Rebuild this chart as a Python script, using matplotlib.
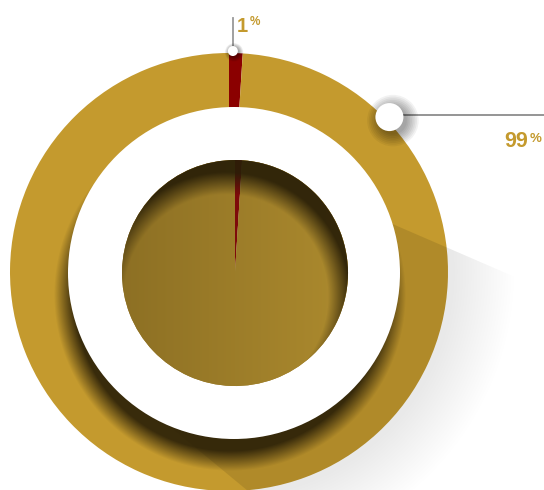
import numpy as np
import matplotlib.pyplot as plt
from matplotlib.patches import Circle, Polygon

# chart data
labels = ['1', '99']
values = [1, 99]
outer_colors = ['#8b0000', '#c49a2e']
inner_colors = ['#7e0a0a', '#9a7a2a']

W, H = 544, 490
gold = '#c49a2e'

fig = plt.figure(figsize=(W / 100, H / 100), dpi=100)
ax = fig.add_axes([0, 0, 1, 1])

# geometry in pixel units, y up
c_out, r_out = (229, 218), 219
c_white, r_white = (234, 217), 166
c_in, r_in = (235, 217), 113

X, Y = np.meshgrid(np.arange(W) + 0.5, np.arange(H) + 0.5)
ext = (0, W, 0, H)


def dist(c):
    return np.hypot(X - c[0], Y - c[1])


def shade(alpha, rgb=(0.16, 0.12, 0.03)):
    img = np.zeros((H, W, 4))
    img[..., :3] = rgb
    img[..., 3] = np.clip(alpha, 0, 1)
    return img


# outer ring
ax.pie(values, colors=outer_colors, radius=r_out, center=c_out, startangle=90,
       counterclock=False, wedgeprops=dict(linewidth=0, zorder=1))

# long shadow towards lower right
pts = [(300, 184), (640, 331), (640, 700), (450, 658), (150, 410)]
poly = Polygon([(x, H - y) for x, y in pts], transform=ax.transData)
d = dist(c_out)
a = np.where(d < r_out, 0.1, 0.09 * np.clip((288 - d) / 65, 0, 1))
im = ax.imshow(shade(a, (0, 0, 0)), extent=ext, origin='lower', zorder=2,
               interpolation='bilinear')
im.set_clip_path(poly)

# shadow of the white disc on the ring
cs = (c_white[0] - 4, c_white[1] - 22)
a = 0.9 * np.clip((r_white - dist(cs)) / 20 + 0.5, 0, 1)
im = ax.imshow(shade(a), extent=ext, origin='lower', zorder=3,
               interpolation='bilinear')
im.set_clip_path(Circle(c_out, r_out, transform=ax.transData))

ax.add_patch(Circle(c_white, r_white, fc='white', ec='none', zorder=4))

# inner pie
wedges, _ = ax.pie(values, colors=inner_colors, radius=r_in, center=c_in,
                   startangle=90, counterclock=False,
                   wedgeprops=dict(linewidth=0, zorder=5))
t = np.clip((X - (c_in[0] - r_in)) / (2 * r_in), 0, 1)[..., None]
dark = np.array([141, 112, 36]) / 255
light = np.array([172, 138, 46]) / 255
grad = np.ones((H, W, 4))
grad[..., :3] = dark * (1 - t) + light * t
im = ax.imshow(grad, extent=ext, origin='lower', zorder=6, interpolation='bilinear')
im.set_clip_path(wedges[1])

# inner shadow cast by the white ring
c2 = (c_in[0] - 9, c_in[1] - 24)
a = 0.92 * np.clip((dist(c2) - r_in) / 22 + 0.5, 0, 1)
im = ax.imshow(shade(a), extent=ext, origin='lower', zorder=7,
               interpolation='bilinear')
im.set_clip_path(Circle(c_in, r_in, transform=ax.transData))

# label markers
label_angles = [89, 44]
marker_r = [5, 14]
marker_rad = [221, 223]
mk = []
for ang, rr, mr in zip(label_angles, marker_rad, marker_r):
    mx = c_out[0] + rr * np.cos(np.radians(ang))
    my = c_out[1] + rr * np.sin(np.radians(ang))
    mk.append((mx, my))
    for k in range(8):
        ax.add_patch(Circle((mx + mr * 0.25, my - mr * 0.25), mr + k * mr * 0.12,
                            fc='black', ec='none', alpha=0.05, zorder=11))
    ax.add_patch(Circle((mx, my), mr, fc='white', ec='none', zorder=12))

ax.plot([mk[0][0], mk[0][0]], [mk[0][1], H - 18], color='#999999', lw=1.3, zorder=10)
ax.plot([mk[1][0], W], [mk[1][1] + 2, mk[1][1] + 2], color='#8c8c8c', lw=1.3, zorder=10)

font = 'Liberation Sans'
ax.text(237, H - 32, labels[0], fontsize=14.5, fontweight='bold', color=gold,
        family=font, va='baseline', ha='left', zorder=13)
ax.text(249.5, H - 25, '%', fontsize=8.5, fontweight='bold', color=gold,
        family=font, va='baseline', ha='left', zorder=13)
ax.text(504, H - 147, labels[1], fontsize=15.5, fontweight='bold', color=gold,
        family=font, va='baseline', ha='left', zorder=13)
ax.text(529.5, H - 142, '%', fontsize=9.5, fontweight='bold', color=gold,
        family=font, va='baseline', ha='left', zorder=13)

ax.set_xlim(0, W)
ax.set_ylim(0, H)
ax.set_aspect('equal')
ax.set_axis_off()

fig.savefig('out.png', dpi=100, facecolor='white')
